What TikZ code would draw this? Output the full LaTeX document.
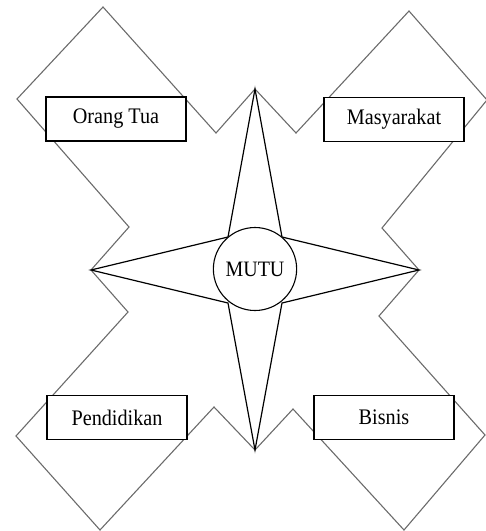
\documentclass[tikz,border=0pt]{standalone}
\usepackage{fontspec}
\setmainfont{Liberation Serif}
\usepackage{graphicx}
\usepackage{tikz}
\usetikzlibrary{shapes.geometric}

% slightly taller lettering, as in the original
\newcommand{\tinggi}[1]{\scalebox{1}[1.1]{#1}}

\tikzset{
  kotak/.style={draw, line width=1.1pt, fill=white, rectangle,
    minimum width=140pt, minimum height=44pt, inner sep=0pt,
    font=\fontsize{20.2}{24}\selectfont},
  pusat/.style={draw, line width=1.1pt, fill=white, ellipse,
    minimum width=74pt, minimum height=83pt, inner sep=0pt,
    font=\fontsize{20}{24}\selectfont},
  garis/.style={draw=black!58, line width=1.1pt, line join=miter},
  bintang/.style={draw=black, line width=1.2pt, line join=miter}
}

\begin{document}
\begin{tikzpicture}[x=1pt,y=-1pt]
        \useasboundingbox (0,0) rectangle (486,531);
        \clip (0,0) rectangle (486,531);
        % Outline of the four diamonds
        \draw[garis] (103,7) -- (216,133) -- (255,89) -- (296,133) -- (409,11)
              -- (487,100) -- (382,228) -- (419,270) -- (379,316) -- (485,435)
              -- (404,530) -- (293,409) -- (255,450) -- (214,407) -- (100,530)
              -- (16,436) -- (128,312) -- (91,270) -- (129,227) -- (17,99) -- cycle;
        % Star
        \draw[bintang] (255,89) -- (282,237) -- (419,270) -- (282,303) -- (255,450)
              -- (228,303) -- (91,270) -- (228,237) -- cycle;
        % Centre
        \node[pusat] (mutu) at (255,269) {\tinggi{MUTU}};
        % Labels in the corners
        \node[kotak] (ortu) at (116,119) {\tinggi{Orang Tua}};
        \node[kotak] (masy) at (394,119.5) {\tinggi{Masyarakat}};
        \node[kotak] (pend) at (117,417.5) {\tinggi{Pendidikan}};
        \node[kotak] (bisnis) at (384,417.5) {\tinggi{Bisnis}};
    \end{tikzpicture}
\end{document}
